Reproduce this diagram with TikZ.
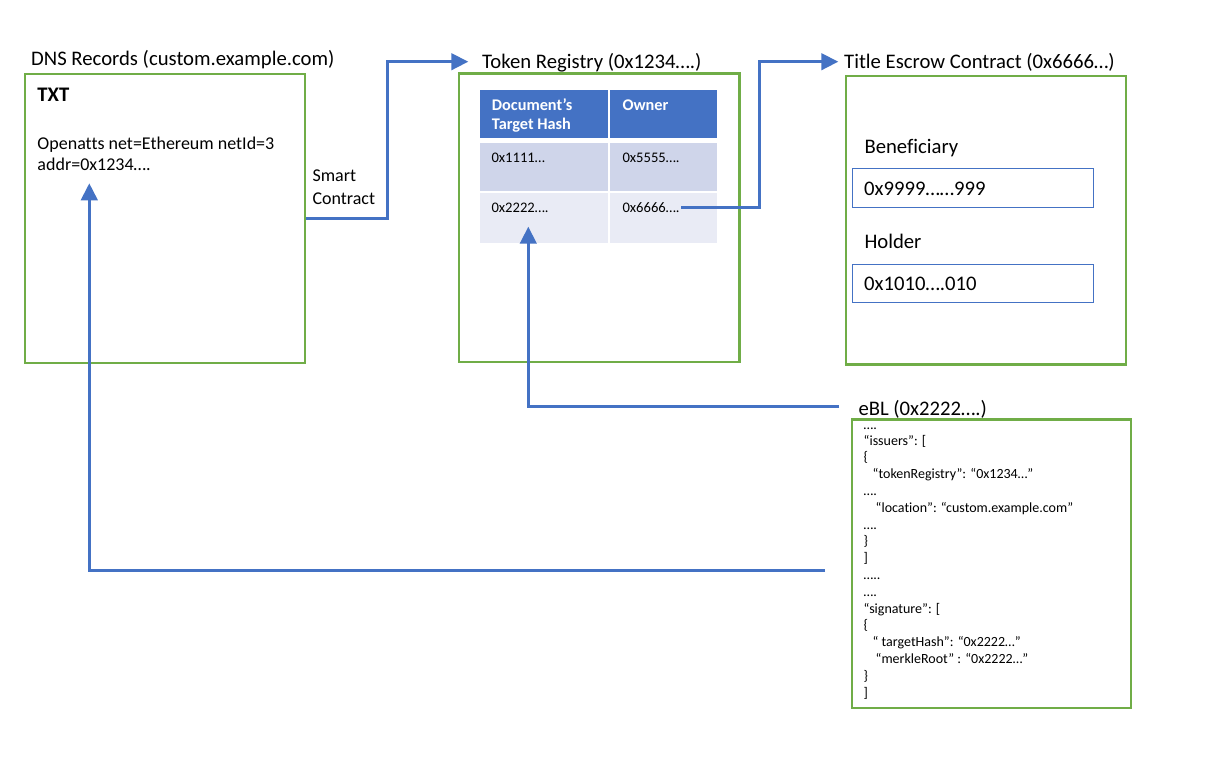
\documentclass[tikz,border=0pt]{standalone}
\usepackage{fontspec}
\setmainfont{Carlito}[Ligatures=NoCommon]
\usetikzlibrary{arrows.meta}
\definecolor{grn}{HTML}{70AD47}
\definecolor{blu}{HTML}{4472C4}
\definecolor{rowa}{HTML}{CFD5EA}
\definecolor{rowb}{HTML}{E9EBF5}
\tikzset{
  gbox/.style={draw=grn, line width=2.2pt, inner sep=0pt, anchor=north west},
  cell/.style={inner sep=0pt, anchor=north west},
  ibox/.style={draw=blu, line width=1.1pt, inner sep=0pt, anchor=north west},
  txt/.style={inner sep=0pt, anchor=base west, text=black},
  ttl/.style={txt, font=\fontsize{20.7pt}{24pt}\selectfont},
  body/.style={txt, font=\fontsize{18pt}{22pt}\selectfont},
  hdr/.style={txt, text=white, font=\fontsize{16.3pt}{19pt}\selectfont\bfseries},
  tv/.style={txt, font=\fontsize{14.6pt}{17pt}\selectfont},
  json/.style={txt, font=\fontsize{14pt}{16.8pt}\selectfont},
  conn/.style={draw=blu, line width=3pt, line join=miter, -{Triangle[length=17pt,width=16.5pt]}},
}
\begin{document}
\begin{tikzpicture}[x=1pt,y=-1pt]
\useasboundingbox[fill=white] (0,0) rectangle (1227,764);

% main boxes
\node[gbox, minimum width=280pt, minimum height=289pt] (dns) at (24,72.7) {};
\node[gbox, minimum width=280.6pt, minimum height=288.7pt] (tok) at (457.7,72.3) {};
\node[gbox, minimum width=280pt, minimum height=288.3pt] (esc) at (845,75) {};
\node[gbox, minimum width=279pt, minimum height=288.4pt] (ebl) at (851,418.3) {};

% DNS texts
\node[ttl] (dnsT) at (31,65) {DNS Records (custom.example.com)};
\node[ttl, font=\fontsize{20.7pt}{24pt}\selectfont\bfseries] (txtT) at (37.3,101.7) {TXT};
\node[body] (op) at (37.3,149.3) {Openatts net=Ethereum netId=3};
\node[body] (addr) at (37.3,170) {addr=0x1234….};
\node[body] (smart) at (312.3,181.7) {Smart};
\node[body] (contr) at (312.3,204.3) {Contract};

% Token registry
\node[ttl] (tokT) at (482,68) {Token Registry (0x1234….)};
\node[cell, fill=blu, minimum width=128.7pt, minimum height=48pt] (h1) at (479.3,89.3) {};
\node[cell, fill=blu, minimum width=106.7pt, minimum height=48pt] (h2) at (610,89.3) {};
\node[cell, fill=rowa, minimum width=128.7pt, minimum height=48pt] (r1a) at (479.3,142.7) {};
\node[cell, fill=rowa, minimum width=106.7pt, minimum height=48pt] (r1b) at (610,142.7) {};
\node[cell, fill=rowb, minimum width=128.7pt, minimum height=50pt] (r2a) at (479.3,192.7) {};
\node[cell, fill=rowb, minimum width=106.7pt, minimum height=50pt] (r2b) at (610,192.7) {};
\node[hdr] (hd1) at (491.7,110.7) {Document’s};
\node[hdr] (hd2) at (491.7,129.3) {Target Hash};
\node[hdr] (hd3) at (622.3,110.7) {Owner};
\node[tv] (v11) at (491.3,162.7) {0x1111…};
\node[tv] (v12) at (622.3,162.7) {0x5555….};
\node[tv] (v21) at (491.3,212.7) {0x2222….};
\node[tv] (v22) at (622.3,212.7) {0x6666….};

% Title escrow
\node[ttl] (escT) at (844,68) {Title Escrow Contract (0x6666…)};
\node[ttl] (benL) at (864.3,153.3) {Beneficiary};
\node[ibox, minimum width=241pt, minimum height=38.4pt] (benB) at (851.7,168.3) {};
\node[ttl] (benV) at (864,195) {0x9999……999};
\node[ttl] (holL) at (864.3,248.3) {Holder};
\node[ibox, minimum width=241pt, minimum height=38pt] (holB) at (851.7,264.3) {};
\node[ttl] (holV) at (864,290.7) {0x1010….010};

% eBL
\node[ttl] (eblT) at (858.3,415) {eBL (0x2222….)};
\node[json] (j0) at (863.5,429) {….};
\node[json] (j1) at (863.5,445) {“issuers”: [};
\node[json] (j2) at (863.5,461.8) {\{};
\node[json] (j3) at (863.5,478.6) {\hspace{9pt}“tokenRegistry”: “0x1234…”};
\node[json] (j4) at (863.5,495.4) {….};
\node[json] (j5) at (863.5,512.2) {\hspace{12pt}“location”: “custom.example.com”};
\node[json] (j6) at (863.5,529) {….};
\node[json] (j7) at (863.5,545.8) {\}};
\node[json] (j8) at (863.5,562.6) {]};
\node[json] (j9) at (863.5,579.4) {…..};
\node[json] (j10) at (863.5,596.2) {….};
\node[json] (j11) at (863.5,613) {“signature”: [};
\node[json] (j12) at (863.5,629.8) {\{};
\node[json] (j13) at (863.5,646.6) {\hspace{9pt}“ targetHash”: “0x2222…”};
\node[json] (j14) at (863.5,663.4) {\hspace{12pt}“merkleRoot” : “0x2222…”};
\node[json] (j15) at (863.5,680.2) {\}};
\node[json] (j16) at (863.5,697) {]};

% connector ends
\coordinate (trin) at (468.3,61.7);
\coordinate (tein) at (838.3,61.7);
\coordinate (o6) at (681,207.3);
\coordinate (t2) at (528.3,226.7);
\coordinate (t1) at (89.3,183.3);
\coordinate (es) at (839,406.7);
\coordinate (ls) at (825,570.7);

% connectors
\draw[conn] (dns.east) -| (387,61.7) -- (trin);
\draw[conn] (o6) -| (759,61.7) -- (tein);
\draw[conn] (es) -| (t2);
\draw[conn] (ls) -| (t1);
\end{tikzpicture}
\end{document}
